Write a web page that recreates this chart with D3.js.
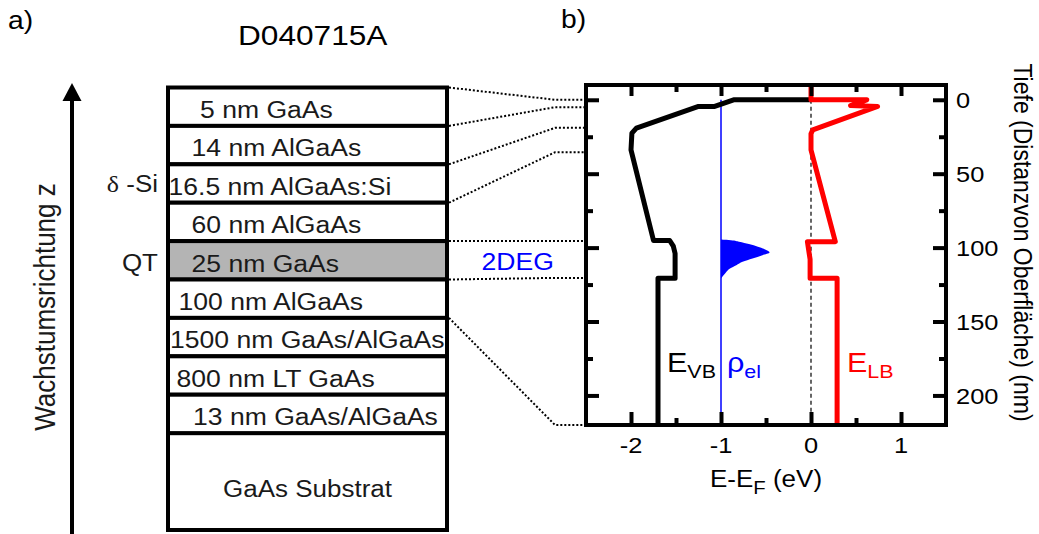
<!DOCTYPE html>
<html><head><meta charset="utf-8">
<script src="https://cdn.jsdelivr.net/npm/d3@7"></script>
<style>body{margin:0;background:#fff}svg{display:block}text{font-family:Arial,"Liberation Sans",Helvetica,sans-serif}</style>
</head><body><svg id="c" width="1039" height="534"></svg>
<script>
// ---------- data ----------
const layerNames = ["5 nm GaAs","14 nm AlGaAs","16.5 nm AlGaAs:Si","60 nm AlGaAs","25 nm GaAs","100 nm AlGaAs","1500 nm GaAs/AlGaAs","800 nm LT GaAs","13 nm GaAs/AlGaAs"];
const layerThickness = [5,14,16.5,60,25,100,1500,800,13];
const substrateName = "GaAs Substrat";
const sideLabels = [{layer:2, text:"δ -Si"},{layer:4, text:"QT"}];
const connectedBoundaries = 7; // boundaries 0..6 linked to the band diagram

const depthVB  = [0, 0, 4.5, 4.5, 19.2, 22.6, 33.9, 95.2, 95.2, 99, 104, 120.7, 120.7, 220];
const energyVB = [0, -0.86, -1.07, -1.25, -1.94, -1.99, -2.0, -1.75, -1.57, -1.53, -1.51, -1.51, -1.70, -1.70];
const depthLB  = [-10, 0, 0, 3.9, 4.5, 20.3, 23, 33.9, 96, 96, 108, 120.7, 120.7, 220];
const energyLB = [0, 0, 0.62, 0.44, 0.74, 0.02, 0, 0, 0.27, -0.04, -0.01, -0.01, 0.29, 0.29];
const rhoBase = -1;
const rhoDepth = [94.5, 95, 96, 97.6, 99.4, 101.2, 103.3, 105.1, 107.3, 109.6, 111.9, 114.1, 117.1, 120.9];
const rhoValue = [0, 0.11, 0.2, 0.31, 0.41, 0.49, 0.54, 0.46, 0.35, 0.24, 0.17, 0.1, 0.05, 0];

const xMajor = [-2, -1, 0, 1];
const xMinor = [-1.5, -0.5, 0.5];
const xTickLabels = ["-2", "-1", "0", "1"];
const yMajor = [0, 50, 100, 150, 200];
const yMinor = [25, 75, 125, 175];
const yTickLabels = ["0", "50", "100", "150", "200"];

// ---------- layout ----------
const svg = d3.select("#c");
const SX = 1.13;
function label(x, y, parts, o = {}) {
  const t = svg.append("text")
    .attr("transform", `translate(${x},${y}) scale(${SX},1)` + (o.rotate ? ` rotate(${o.rotate})` : ""))
    .attr("text-anchor", o.anchor || "start").attr("fill", o.color || "#000")
    .attr("font-size", o.size || 23);
  if (o.baseline) t.attr("dominant-baseline", o.baseline);
  if (o.family) t.attr("font-family", o.family);
  (Array.isArray(parts) ? parts : [{t: parts}]).forEach(p => {
    const s = t.append("tspan").text(p.t);
    if (p.size) s.attr("font-size", p.size);
    if (p.dy) s.attr("dy", p.dy);
    if (p.family) s.attr("font-family", p.family);
  });
  return t;
}

// titles
label(8, 28.5, "a)", {size: 25});
label(561, 28, "b)", {size: 25});
label(238, 45, "D040715A", {size: 28});

// ---------- left panel ----------
const boxX0 = 168, boxX1 = 447;
const band = d3.scaleBand().domain(d3.range(layerNames.length)).range([87.5, 433.1]);
const subTop = band.range()[1], subBottom = 530;
const labelX = [200, 191.5, 168.5, 191.5, 191.5, 178.5, 170, 176.5, 193];

svg.append("rect").attr("x", boxX0).attr("y", subTop).attr("width", boxX1 - boxX0).attr("height", subBottom - subTop)
  .attr("fill", "#fff").attr("stroke", "#000").attr("stroke-width", 4);
layerNames.forEach((n, i) => {
  svg.append("rect").attr("x", boxX0).attr("y", band(i)).attr("width", boxX1 - boxX0).attr("height", band.bandwidth())
    .attr("fill", i === 4 ? "#b4b4b4" : "#fff").attr("stroke", "#000").attr("stroke-width", 4);
});
layerNames.forEach((n, i) => {
  label(labelX[i], band(i) + band.bandwidth() - 8, n, {size: 23.5, color: "#1a1a1a"});
});
label((boxX0 + boxX1) / 2 + 0, 497, substrateName, {size: 23, anchor: "middle", color: "#1a1a1a"});

label(158, band(2) + band.bandwidth() - 10.5, [{t: "δ", family: "'Liberation Serif','Times New Roman',serif"}, {t: " -Si"}], {size: 23, anchor: "end", color: "#1a1a1a"});
label(158, band(4) + band.bandwidth() - 9, "QT", {size: 23, anchor: "end", color: "#1a1a1a"});

// growth arrow
svg.append("line").attr("x1", 72).attr("x2", 72).attr("y1", 98).attr("y2", 534).attr("stroke", "#000").attr("stroke-width", 4);
svg.append("path").attr("d", "M72,83 L62.5,101 L81.5,101 Z").attr("fill", "#000");
label(44, 307, "Wachstumsrichtung z", {size: 26, anchor: "middle", baseline: "central", rotate: -90, color: "#1a1a1a"});

// ---------- right panel ----------
const x = d3.scaleLinear().domain([-2.5, 1.5]).range([586, 946]);
const y = d3.scaleLinear().domain([-10, 220]).range([85, 425]);

// connectors
const cum = [0];
layerThickness.forEach(t => cum.push(cum[cum.length - 1] + t));
for (let i = 0; i < connectedBoundaries; i++) {
  const d = Math.min(cum[i], y.domain()[1]);
  svg.append("path")
    .attr("d", d3.line()([[boxX1 + 2, band(i)], [555, y(d)], [x.range()[0], y(d)]]))
    .attr("fill", "none").attr("stroke", "#000").attr("stroke-width", 2).attr("stroke-dasharray", "2,2");
}
label(481.5, 270, "2DEG", {size: 23.5, color: "#0000ff"});

svg.append("defs").append("clipPath").attr("id", "clip").append("rect")
  .attr("x", x.range()[0]).attr("y", y.range()[0]).attr("width", x.range()[1] - x.range()[0]).attr("height", y.range()[1] - y.range()[0]);
const plot = svg.append("g").attr("clip-path", "url(#clip)");

// Fermi level
plot.append("line").attr("x1", x(0)).attr("x2", x(0)).attr("y1", y(0)).attr("y2", y(220))
  .attr("stroke", "#000").attr("stroke-width", 1.2).attr("stroke-dasharray", "4,3");
// electron density
plot.append("line").attr("x1", x(rhoBase)).attr("x2", x(rhoBase)).attr("y1", y(0)).attr("y2", y(220))
  .attr("stroke", "#0000ff").attr("stroke-width", 1.5);
plot.append("path").datum(rhoDepth.map((d, i) => [d, rhoValue[i]]))
  .attr("d", d3.area().curve(d3.curveMonotoneY).y(d => y(d[0])).x0(x(rhoBase)).x1(d => x(rhoBase + d[1])))
  .attr("fill", "#0000ff");
const line = d3.line().x(d => x(d[0])).y(d => y(d[1]));
plot.append("path").datum(energyVB.map((e, i) => [e, depthVB[i]])).attr("d", line)
  .attr("fill", "none").attr("stroke", "#000").attr("stroke-width", 5).attr("stroke-linejoin", "round");
plot.append("path").datum(energyLB.map((e, i) => [e, depthLB[i]])).attr("d", line)
  .attr("fill", "none").attr("stroke", "#ff0000").attr("stroke-width", 5).attr("stroke-linejoin", "round");

// frame
svg.append("rect").attr("x", x.range()[0]).attr("y", y.range()[0]).attr("width", x.range()[1] - x.range()[0]).attr("height", y.range()[1] - y.range()[0])
  .attr("fill", "none").attr("stroke", "#000").attr("stroke-width", 4);

function ticks(axisFn, scale, vals, len, tr) {
  svg.append("g").attr("transform", tr)
    .call(axisFn(scale).tickValues(vals).tickSize(-len).tickFormat(""))
    .call(g => g.select(".domain").remove())
    .selectAll("line").attr("stroke", "#000").attr("stroke-width", 4);
}
ticks(d3.axisBottom, x, xMajor, 13, `translate(0,${y.range()[1]})`);
ticks(d3.axisBottom, x, xMinor, 7, `translate(0,${y.range()[1]})`);
ticks(d3.axisTop, x, xMajor, 11, `translate(0,${y.range()[0]})`);
ticks(d3.axisTop, x, xMinor, 7, `translate(0,${y.range()[0]})`);
ticks(d3.axisLeft, y, yMajor, 13, `translate(${x.range()[0]},0)`);
ticks(d3.axisLeft, y, yMinor, 7, `translate(${x.range()[0]},0)`);
ticks(d3.axisRight, y, yMajor, 13, `translate(${x.range()[1]},0)`);
ticks(d3.axisRight, y, yMinor, 7, `translate(${x.range()[1]},0)`);

xMajor.forEach((v, i) => label(x(v), 453, xTickLabels[i], {size: 22.5, anchor: "middle"}));
yMajor.forEach((v, i) => label(956, y(v), yTickLabels[i], {size: 22.5, baseline: "central"}));

label(710, 487, [{t: "E-E"}, {t: "F", size: 18, dy: 7}, {t: " (eV)", dy: -7}], {size: 23});
label(1024, 242.5, "Tiefe (Distanzvon Oberfläche) (nm)", {size: 23, anchor: "middle", baseline: "central", rotate: 90});

label(667, 372, [{t: "E", size: 27}, {t: "VB", size: 19, dy: 6}]);
label(727, 372, [{t: "ρ", size: 27}, {t: "el", size: 19, dy: 6}], {color: "#0000ff"});
label(847, 372, [{t: "E", size: 27}, {t: "LB", size: 19, dy: 6}], {color: "#ff0000"});
</script></body></html>
